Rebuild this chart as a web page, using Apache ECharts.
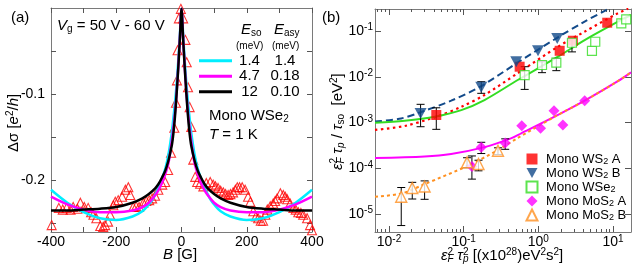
<!DOCTYPE html>
<html><head><meta charset="utf-8">
<script src="https://cdn.jsdelivr.net/npm/echarts@6/dist/echarts.min.js"></script>
<style>html,body{margin:0;padding:0;background:#fff}#c{width:638px;height:268px}</style>
</head><body><div id="c"></div>
<script>
const FONT = '"Liberation Sans", Arial, Helvetica, sans-serif';

// ---------- Panel (a): Delta sigma vs B ----------
const aTriangles = [
  [-398,-0.252],[-376,-0.232],[-364,-0.234],[-352,-0.232],[-340,-0.234],[-332,-0.231],[-319,-0.233],
  [-310,-0.226],[-298,-0.231],[-286,-0.232],[-277,-0.237],[-270,-0.240],[-261,-0.244],[-249,-0.253],
  [-240,-0.254],[-234,-0.252],[-225,-0.248],[-219,-0.240],[-209,-0.229],[-203,-0.225],[-194,-0.223],
  [-182,-0.219],[-172,-0.211],[-163,-0.208],[-157,-0.217],[-148,-0.231],[-139,-0.230],[-130,-0.231],
  [-117,-0.226],[-108,-0.224],[-99,-0.223],[-90,-0.221],[-81,-0.218],[-71,-0.211],[-59,-0.205],
  [-50,-0.202],[-41,-0.188],[-32,-0.168],[-22,-0.139],[-17,-0.110],[-14,-0.084],[-12,-0.049],
  [-8,-0.012],[-2,-0.001],
  [5,-0.012],[12,-0.037],[16,-0.063],[20,-0.092],[25,-0.115],[30,-0.138],[36,-0.176],[42,-0.196],
  [48,-0.202],[57,-0.204],[67,-0.207],[76,-0.203],[88,-0.202],[97,-0.205],[104,-0.207],[112,-0.209],
  [120,-0.212],[128,-0.214],[135,-0.216],[143,-0.217],[150,-0.216],[158,-0.214],[165,-0.211],
  [171,-0.208],[178,-0.208],[186,-0.208],[195,-0.211],[204,-0.219],[211,-0.225],[220,-0.236],
  [228,-0.242],[235,-0.244],[243,-0.247],[250,-0.247],[257,-0.240],[263,-0.234],[272,-0.230],
  [281,-0.227],[287,-0.224],[293,-0.221],[303,-0.215],[312,-0.217],[318,-0.219],[324,-0.222],
  [333,-0.227],[343,-0.232],[350,-0.234],[358,-0.237],[366,-0.238],[373,-0.240],[385,-0.244],
  [394,-0.252],[400,-0.258]
];
const aFitCyan = [
  [-400,-0.211],[-350,-0.226],[-300,-0.237],[-250,-0.244],[-200,-0.246],[-150,-0.242],[-120,-0.236],
  [-100,-0.228],[-90,-0.223],[-80,-0.216],[-70,-0.208],[-60,-0.198],[-50,-0.187],[-40,-0.170],
  [-30,-0.145],[-25,-0.128],[-20,-0.110],[-15,-0.088],[-10,-0.062],[-5,-0.031],[0,-0.001],
  [5,-0.031],[10,-0.062],[15,-0.088],[20,-0.110],[25,-0.128],[30,-0.145],[40,-0.170],[50,-0.187],
  [60,-0.198],[70,-0.208],[80,-0.216],[90,-0.223],[100,-0.228],[120,-0.236],[150,-0.242],
  [200,-0.246],[250,-0.244],[300,-0.237],[350,-0.226],[400,-0.211]
];
const aFitMagenta = [
  [-400,-0.219],[-350,-0.228],[-300,-0.234],[-250,-0.237],[-200,-0.237],[-150,-0.235],[-120,-0.231],
  [-100,-0.226],[-80,-0.217],[-70,-0.211],[-60,-0.203],[-50,-0.193],[-40,-0.180],[-30,-0.155],
  [-25,-0.140],[-20,-0.122],[-15,-0.098],[-10,-0.069],[-5,-0.035],[0,-0.001],
  [5,-0.035],[10,-0.069],[15,-0.098],[20,-0.122],[25,-0.140],[30,-0.155],[40,-0.180],[50,-0.193],
  [60,-0.203],[70,-0.211],[80,-0.217],[100,-0.226],[120,-0.231],[150,-0.235],[200,-0.237],
  [250,-0.237],[300,-0.234],[350,-0.228],[400,-0.219]
];
const aFitBlack = [
  [-400,-0.235],[-350,-0.235],[-300,-0.234],[-250,-0.233],[-200,-0.231],[-150,-0.226],[-120,-0.221],
  [-100,-0.216],[-80,-0.209],[-70,-0.204],[-60,-0.197],[-50,-0.189],[-40,-0.177],[-30,-0.160],
  [-25,-0.146],[-20,-0.126],[-15,-0.100],[-10,-0.070],[-5,-0.036],[0,-0.001],
  [5,-0.036],[10,-0.070],[15,-0.100],[20,-0.126],[25,-0.146],[30,-0.160],[40,-0.177],[50,-0.189],
  [60,-0.197],[70,-0.204],[80,-0.209],[100,-0.216],[120,-0.221],[150,-0.226],[200,-0.231],
  [250,-0.233],[300,-0.234],[350,-0.235],[400,-0.235]
];
const aFitEso  = ['1.4', '4.7', '12'];
const aFitEasy = ['1.4', '0.18', '0.10'];
const aYLabelValues = [-0.2, -0.1];
const aYTickValues  = [-0.25, -0.2, -0.15, -0.1, -0.05];

// ---------- Panel (b): log-log ----------
const bNames = ['Mono WS2 A', 'Mono WS2 B', 'Mono WSe2', 'Mono MoS2 A', 'Mono MoS2 B'];
const bWS2A  = [[0.043,1.46e-3],[0.562,0.0166],[1.93,0.037],[2.90,0.0614],[8.36,0.152]];
const bWS2B  = [[0.0265,1.58e-3],[0.172,5.9e-3],[0.506,0.0214],[0.99,0.037],[1.79,0.069]];
const bWSe2  = [[0.656,0.0109],[1.12,0.0181],[1.74,0.0203],[2.82,0.0555],[5.22,0.037],[5.78,0.0583],[12.9,0.147],[15.0,0.18]];
const bMoS2A = [[0.129,1.1e-4],[0.172,2.87e-4],[0.36,3.56e-4],[0.60,8.5e-4],[1.07,7.5e-4],[1.62,1.81e-3],[2.13,8.8e-4],[4.17,3.0e-3]];
const bMoS2B = [[0.0146,2.39e-5],[0.0205,3.7e-5],[0.030,4.0e-5],[0.111,1.35e-4],[0.158,1.24e-4],[0.288,2.42e-4]];
// error bars: [x, low, high]
const bErrorBars = [
  [0.043,7.1e-4,2.1e-3],
  [0.0265,8.1e-4,2.5e-3],[0.172,4.35e-3,7.8e-3],
  [0.656,5.3e-3,0.0166],[1.12,0.0123,0.0213],[1.74,0.0136,0.0253],[2.82,0.035,0.069],
  [0.129,5.8e-5,1.86e-4],[0.172,2.1e-4,3.7e-4],[0.36,2.6e-4,4.4e-4],
  [0.0146,5.6e-6,3.8e-5],[0.0205,2.13e-5,4.93e-5],[0.030,2.1e-5,5.3e-5],[0.111,1.03e-4,1.7e-4],
  [0.158,8.8e-5,1.5e-4],[0.288,2.0e-4,2.8e-4]
];
const bFitWS2A  = [[0.0065,6.9e-4],[0.0162,8.4e-4],[0.043,1.34e-3],[0.093,2.2e-3],[0.19,4.0e-3],[0.53,1.2e-2],[1.83,4.54e-2],[4.17,9.7e-2],[11.6,0.244],[16,0.31]];
const bFitWS2B  = [[0.0065,1.05e-3],[0.0146,1.23e-3],[0.027,1.7e-3],[0.068,3.0e-3],[0.17,6.2e-3],[0.53,2.05e-2],[1.83,7.3e-2],[4,0.155],[8.1,0.288],[9,0.32]];
const bFitWSe2  = [[0.0065,9.9e-4],[0.0162,1.1e-3],[0.041,1.34e-3],[0.093,1.87e-3],[0.19,3.1e-3],[0.53,8.5e-3],[1.83,0.0275],[4.17,0.0636],[11.6,0.16],[17.4,0.224]];
const bFitMoS2A = [[0.0065,1.67e-4],[0.03,1.8e-4],[0.068,2.05e-4],[0.19,2.9e-4],[0.43,4.5e-4],[0.59,5.8e-4],[1.65,1.34e-3],[4.17,3.0e-3],[11.6,8.0e-3],[17.4,1.25e-2]];
const bFitMoS2B = [[0.0065,2.4e-5],[0.0146,2.8e-5],[0.03,4.5e-5],[0.114,1.14e-4],[0.288,2.5e-4],[0.53,4.6e-4],[1.65,1.34e-3],[4.17,3.0e-3],[11.6,8.0e-3],[17.4,1.25e-2]];
const bXLabelValues = [0.01, 0.1, 1, 10];
const bXMinorValues = [0.007,0.008,0.009,0.02,0.03,0.04,0.05,0.06,0.07,0.08,0.09,0.2,0.3,0.4,0.5,0.6,0.7,0.8,0.9,2,3,4,5,6,7,8,9];
const bYLabelValues = [1e-5, 1e-4, 1e-3, 1e-2, 1e-1];

// ---------- helpers ----------
function richSet(fs) {
  const s = Math.round(fs * 0.68);
  return {
    n:   {fontSize: fs, fontFamily: FONT, color: '#000', fill: '#000'},
    i:   {fontSize: fs, fontFamily: FONT, fontStyle: 'italic', color: '#000', fill: '#000'},
    sub: {fontSize: s, fontFamily: FONT, color: '#000', fill: '#000', padding: [Math.round(fs*0.42),0,0,0]},
    isub:{fontSize: s, fontFamily: FONT, fontStyle: 'italic', color: '#000', fill: '#000', padding: [Math.round(fs*0.42),0,0,0]},
    isub0:{fontSize: s, fontFamily: FONT, fontStyle: 'italic', color: '#000', fill: '#000', padding: [Math.round(fs*0.42),0,0,0], width: 0},
    sup: {fontSize: s, fontFamily: FONT, color: '#000', fill: '#000', padding: [0,0,Math.round(fs*0.48),0]},
    small:{fontSize: 10, fontFamily: FONT, color: '#000', fill: '#000'}
  };
}
function gtext(x, y, text, fs, opts) {
  opts = opts || {};
  return {
    type: 'text', x: x, y: y, rotation: opts.rotation || 0, z: 100,
    style: {text: text, rich: richSet(fs), fontSize: fs, fontFamily: FONT, fill: '#000',
            align: 'left', verticalAlign: opts.va || 'middle'}
  };
}
const FRAME = '#7a7a7a';
const TICK = '#555';
const DOWN_TRI = 'path://M0,0L10,0L5,9Z';

function frameAxis(extra) {
  return Object.assign({
    axisLine: {show: true, onZero: false, lineStyle: {color: FRAME, width: 1}},
    splitLine: {show: false},
  }, extra);
}

const legendRichA = {
  c1: {width: 25, align: 'center', fontSize: 15, fontFamily: FONT, color: '#000'},
  c2: {width: 30, align: 'center', fontSize: 15, fontFamily: FONT, color: '#000', padding: [0,0,0,8]}
};
const legendRichB = richSet(13);

const chart = echarts.init(document.getElementById('c'), null, {renderer: 'canvas'});
const aLineColors = ['#00eeff', '#ff00ff', '#000000'];
const aFits = [aFitCyan, aFitMagenta, aFitBlack];

function logLabel(v) {
  const e = Math.round(Math.log10(v));
  return '{n|10}{sup|' + e + '}';
}
function subLabel(name) {
  return '{n| ' + name.replace(/2/g, '}{sub|2}{n|') + '}';
}

const option = {
  animation: false,
  textStyle: {fontFamily: FONT},
  grid: [
    {left: 51, top: 8, width: 261, height: 224},
    {left: 375, top: 9, width: 256, height: 223}
  ],
  xAxis: [
    frameAxis({gridIndex: 0, type: 'value', position: 'bottom', min: -400, max: 400, interval: 200,
      axisTick: {show: true, inside: true, length: 5, lineStyle: {color: TICK}},
      minorTick: {show: true, splitNumber: 2, length: 5, lineStyle: {color: TICK}},
      axisLabel: {show: true, margin: 3, fontSize: 14, color: '#000', fontFamily: FONT}}),
    frameAxis({gridIndex: 0, type: 'value', position: 'top', min: -400, max: 400, interval: 200,
      axisTick: {show: true, inside: true, length: 5, lineStyle: {color: TICK}},
      minorTick: {show: true, splitNumber: 2, length: 5, lineStyle: {color: TICK}},
      axisLabel: {show: false}}),
    frameAxis({gridIndex: 1, type: 'log', position: 'bottom', min: 0.0065, max: 17.4,
      axisTick: {show: true, inside: true, length: 6, lineStyle: {color: TICK}, customValues: bXLabelValues},
      axisLabel: {show: true, margin: 2, customValues: bXLabelValues, formatter: logLabel, rich: richSet(14)}}),
    frameAxis({gridIndex: 1, type: 'log', position: 'top', min: 0.0065, max: 17.4,
      axisTick: {show: true, inside: true, length: 6, lineStyle: {color: TICK}, customValues: bXLabelValues},
      axisLabel: {show: false}}),
    frameAxis({gridIndex: 1, type: 'log', position: 'bottom', min: 0.0065, max: 17.4,
      axisLine: {show: false, onZero: false},
      axisTick: {show: true, inside: true, length: 3, lineStyle: {color: TICK}, customValues: bXMinorValues},
      axisLabel: {show: false}}),
    frameAxis({gridIndex: 1, type: 'log', position: 'top', min: 0.0065, max: 17.4,
      axisLine: {show: false, onZero: false},
      axisTick: {show: true, inside: true, length: 3, lineStyle: {color: TICK}, customValues: bXMinorValues},
      axisLabel: {show: false}})
  ],
  yAxis: [
    frameAxis({gridIndex: 0, type: 'value', position: 'left', min: -0.26, max: 0,
      axisTick: {show: true, inside: true, length: 5, lineStyle: {color: TICK}, customValues: aYTickValues},
      axisLabel: {show: true, margin: 6, fontSize: 14, color: '#000', fontFamily: FONT, customValues: aYLabelValues}}),
    frameAxis({gridIndex: 0, type: 'value', position: 'right', min: -0.26, max: 0,
      axisTick: {show: true, inside: true, length: 5, lineStyle: {color: TICK}, customValues: aYTickValues},
      axisLabel: {show: false}}),
    frameAxis({gridIndex: 1, type: 'log', position: 'left', min: 4.05e-6, max: 0.303,
      axisTick: {show: true, inside: true, length: 6, lineStyle: {color: TICK}, customValues: bYLabelValues},
      axisLabel: {show: true, margin: 2, customValues: bYLabelValues, formatter: logLabel, rich: richSet(14)}}),
    frameAxis({gridIndex: 1, type: 'log', position: 'right', min: 4.05e-6, max: 0.303,
      axisTick: {show: true, inside: true, length: 6, lineStyle: {color: TICK}, customValues: bYLabelValues},
      axisLabel: {show: false}})
  ],
  legend: [
    {
      left: 199, top: 53, orient: 'vertical', padding: 0, itemGap: 0,
      itemWidth: 33, itemHeight: 3, icon: 'rect',
      data: aFitEso.map((e, k) => e + ' ' + aFitEasy[k]),
      formatter: function (name) { const p = name.split(' '); return '{c1|' + p[0] + '}{c2|' + p[1] + '}'; },
      textStyle: {fontSize: 15, lineHeight: 15.5, rich: legendRichA}
    },
    {
      left: 525.5, top: 152.5, orient: 'vertical', padding: 0, itemGap: 0.5,
      itemWidth: 11, itemHeight: 11,
      data: bNames.map((n, k) => (k === 1 ? {name: n, icon: DOWN_TRI} : n)),
      formatter: subLabel,
      textStyle: {fontSize: 13, lineHeight: 13, rich: legendRichB}
    }
  ],
  series: [
    {type: 'scatter', name: 'data a', xAxisIndex: 0, yAxisIndex: 0, data: aTriangles, symbol: 'triangle', symbolSize: 9,
      itemStyle: {color: 'rgba(255,255,255,0)', borderColor: '#ff0000', borderWidth: 1.1}, z: 2},
    ...aFits.map((d, k) => ({
      type: 'line', name: aFitEso[k] + ' ' + aFitEasy[k], xAxisIndex: 0, yAxisIndex: 0, data: d,
      symbol: 'none', smooth: 0.3, lineStyle: {color: aLineColors[k], width: 2.5}, itemStyle: {color: aLineColors[k]}, z: 3
    })),
    // panel (b) fits
    {type: 'line', name: 'fit WS2 B', xAxisIndex: 2, yAxisIndex: 2, data: bFitWS2B, symbol: 'none', smooth: 0.3,
      lineStyle: {color: '#124a8a', width: 2, type: [7, 4]}, z: 2},
    {type: 'line', name: 'fit WS2 A', xAxisIndex: 2, yAxisIndex: 2, data: bFitWS2A, symbol: 'none', smooth: 0.3,
      lineStyle: {color: '#ff0000', width: 2.2, type: [2.5, 3.5]}, z: 2},
    {type: 'line', name: 'fit WSe2', xAxisIndex: 2, yAxisIndex: 2, data: bFitWSe2, symbol: 'none', smooth: 0.3,
      lineStyle: {color: '#33dd22', width: 2}, z: 2},
    {type: 'line', name: 'fit MoS2 A', xAxisIndex: 2, yAxisIndex: 2, data: bFitMoS2A, symbol: 'none', smooth: 0.3,
      lineStyle: {color: '#ff00ff', width: 2}, z: 2},
    {type: 'line', name: 'fit MoS2 B', xAxisIndex: 2, yAxisIndex: 2, data: bFitMoS2B, symbol: 'none', smooth: 0.3,
      lineStyle: {color: '#ff9020', width: 2, type: [3, 3]}, z: 2},
    {type: 'custom', name: 'err', xAxisIndex: 2, yAxisIndex: 2, data: bErrorBars, encode: {x: 0, y: [1, 2]}, z: 3,
      renderItem: function (params, api) {
        const x = api.value(0), lo = api.value(1), hi = api.value(2);
        const p1 = api.coord([x, lo]), p2 = api.coord([x, hi]);
        const hw = 4;
        const st = {stroke: '#000', lineWidth: 1};
        return {type: 'group', children: [
          {type: 'line', shape: {x1: p1[0], y1: p1[1], x2: p2[0], y2: p2[1]}, style: st},
          {type: 'line', shape: {x1: p1[0]-hw, y1: p1[1], x2: p1[0]+hw, y2: p1[1]}, style: st},
          {type: 'line', shape: {x1: p2[0]-hw, y1: p2[1], x2: p2[0]+hw, y2: p2[1]}, style: st}
        ]};
      }},
    {type: 'scatter', name: bNames[0], xAxisIndex: 2, yAxisIndex: 2, data: bWS2A, symbol: 'rect', symbolSize: 10,
      itemStyle: {color: '#ff0000'}, z: 4},
    {type: 'scatter', name: bNames[1], xAxisIndex: 2, yAxisIndex: 2, data: bWS2B, symbol: DOWN_TRI, symbolSize: [12, 11],
      itemStyle: {color: '#124a8a'}, z: 4},
    {type: 'scatter', name: bNames[2], xAxisIndex: 2, yAxisIndex: 2, data: bWSe2, symbol: 'rect', symbolSize: 9,
      itemStyle: {color: '#ffffff', borderColor: '#33dd22', borderWidth: 1.2}, z: 4},
    {type: 'scatter', name: bNames[3], xAxisIndex: 2, yAxisIndex: 2, data: bMoS2A, symbol: 'diamond', symbolSize: 11,
      itemStyle: {color: '#ff00ff'}, z: 4},
    {type: 'scatter', name: bNames[4], xAxisIndex: 2, yAxisIndex: 2, data: bMoS2B, symbol: 'triangle', symbolSize: 11,
      itemStyle: {color: '#ffffff', borderColor: '#ff9020', borderWidth: 1.4}, z: 4}
  ],
  graphic: [
    gtext(11, 18, '{n|(a)}', 15),
    gtext(322, 18, '{n|(b)}', 15),
    gtext(57, 26, '{i|V}{sub|g}{n| = 50 V - 60 V}', 15),
    gtext(241, 30, '{i|E}{sub|so}', 15),
    gtext(274, 30, '{i|E}{sub|asy}', 15),
    gtext(236, 46, '{small|(meV)}', 10),
    gtext(272, 46, '{small|(meV)}', 10),
    gtext(209, 116, '{n|Mono WSe}{sub|2}', 15),
    gtext(209, 135, '{i|T}{n| = 1 K}', 15),
    gtext(163, 255, '{i|B}{n| [G]}', 15),
    gtext(14, 152, '{n|\u0394\u03c3 [}{i|e}{sup|2}{n|/}{i|h}{n|]}', 15, {rotation: Math.PI / 2}),
    gtext(441, 256, '{i|\u03b5}{isub0|F}{sup|2}{n| }{i|\u03c4}{isub0|p}{sup|2}{n| [(x10}{sup|28}{n|)eV}{sup|2}{n|s}{sup|2}{n|]}', 15),
    gtext(338, 170, '{i|\u03b5}{isub0|F}{sup|2}{n| }{i|\u03c4}{isub|p}{n| / }{i|\u03c4}{sub|so}{n|  [eV}{sup|2}{n|]}', 15, {rotation: Math.PI / 2})
  ]
};
chart.setOption(option);
</script>
</body></html>
